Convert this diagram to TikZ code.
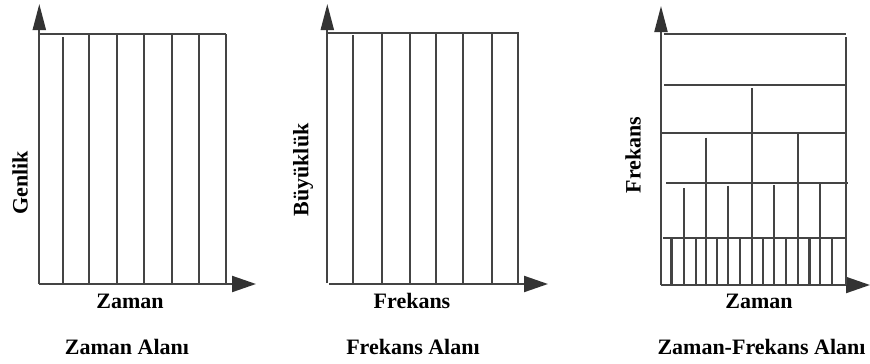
\documentclass[tikz,border=0pt]{standalone}
\usepackage{fontspec}
\setmainfont{Liberation Serif}
\usetikzlibrary{arrows.meta}
\definecolor{linegray}{HTML}{444444}
\definecolor{tipgray}{HTML}{333333}
\begin{document}
\begin{tikzpicture}[x=1pt,y=-1pt,
  ln/.style={draw=linegray, line width=2.1pt},
  yaxis/.style={ln, -{Triangle[length=26pt,width=13pt,color=tipgray]}},
  xaxis/.style={ln, -{Triangle[length=24pt,width=16pt,color=tipgray]}},
  lab/.style={font=\fontsize{22}{26}\selectfont\bfseries, inner sep=0pt}]
\useasboundingbox (0,0) rectangle (870,364);
% ---------- Panel 1: Zaman Alani ----------
\coordinate (o1) at (39.3,284);
\coordinate (y1) at (39.3,4);
\coordinate (x1) at (256,284);
\draw[yaxis] (o1) -- (y1);
\draw[xaxis] (o1) -- (x1);
\draw[ln] (39.3,34) -- (226.3,34);
\draw[ln] (63.3,37) -- (63.3,284);
\foreach \x in {89.3,117.3,144,171.7,199.3,226.3}
  \draw[ln] (\x,34) -- (\x,284);
\node[lab, rotate=90] (genlik) at (20,183) {Genlik};
\node[lab] (zaman1) at (130,301) {Zaman};
\node[lab] (title1) at (127,347) {Zaman Alanı};
% ---------- Panel 2: Frekans Alani ----------
\coordinate (o2y) at (327.3,283);
\coordinate (y2) at (327.3,4);
\coordinate (o2x) at (329,284);
\coordinate (x2) at (548,284);
\draw[yaxis] (o2y) -- (y2);
\draw[xaxis] (o2x) -- (x2);
\draw[ln] (327.3,33) -- (518.5,33);
\draw[ln] (353.3,35) -- (353.3,284);
\foreach \x in {381.7,410,435.7,463.3,491.7,517.7}
  \draw[ln] (\x,33) -- (\x,284);
\node[lab, rotate=90] (buyukluk) at (303,170) {Büyüklük};
\node[lab] (frekans2) at (412,301) {Frekans};
\node[lab] (title2) at (413,347) {Frekans Alanı};
% ---------- Panel 3: Zaman-Frekans Alani ----------
\coordinate (o3) at (661,285);
\coordinate (y3) at (661,6);
\coordinate (x3) at (870,285);
\draw[yaxis] (o3) -- (y3);
\draw[xaxis] (o3) -- (x3);
\draw[ln] (664,34.3) -- (846,34.3);
\draw[ln] (664,85) -- (846,85);
\draw[ln] (662,133.3) -- (845,133.3);
\draw[ln] (666,183.3) -- (848,183.3);
\draw[ln] (663,237.7) -- (846,237.7);
\draw[ln] (845.7,37) -- (845.7,285);
% level 2
\draw[ln] (751.7,88) -- (751.7,285);
% level 3
\draw[ln] (706,137.7) -- (706,285);
\draw[ln] (797.7,134) -- (797.7,285);
% level 4
\draw[ln] (684,188) -- (684,285);
\draw[ln] (728.3,185.7) -- (728.3,285);
\draw[ln] (774.3,185) -- (774.3,285);
\draw[ln] (820,184) -- (820,285);
% level 5
\foreach \x in {671.5,695.7,717.3,740,763,786,809.5,832.3}
  \draw[ln] (\x,237.7) -- (\x,285);
\node[lab, rotate=90] (frekans3) at (633,155) {Frekans};
\node[lab] (zaman3) at (759,301) {Zaman};
\node[lab] (title3) at (761.5,347) {Zaman-Frekans Alanı};
\end{tikzpicture}
\end{document}
